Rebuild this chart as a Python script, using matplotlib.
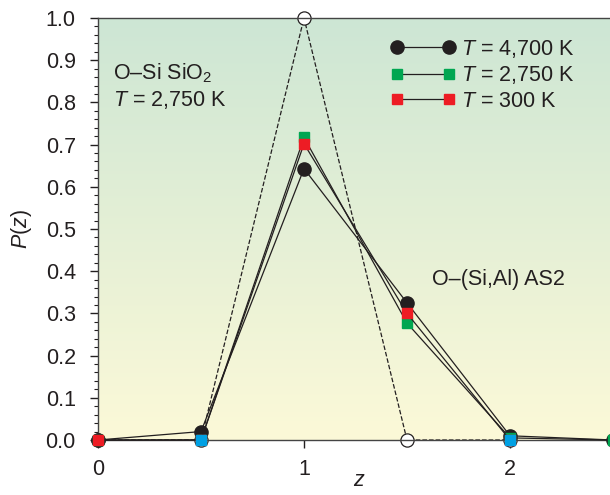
import numpy as np
import matplotlib
matplotlib.use("Agg")
import matplotlib.pyplot as plt
from matplotlib.ticker import MultipleLocator
from matplotlib.colors import LinearSegmentedColormap

plt.rcParams['font.family'] = ['Liberation Sans', 'DejaVu Sans']
plt.rcParams['mathtext.fontset'] = 'custom'
plt.rcParams['mathtext.rm'] = 'Liberation Sans'
plt.rcParams['mathtext.it'] = 'Liberation Sans:italic'

# data
z = [0, 0.5, 1, 1.5, 2, 2.5]
p_4700 = [0.0, 0.02, 0.643, 0.325, 0.01, 0.0]
p_2750 = [0.0, 0.0, 0.717, 0.277, 0.005, 0.0]
z_300 = [0, 0.5, 1, 1.5, 2]
p_300 = [0.0, 0.0, 0.702, 0.300, 0.0]
z_sio2 = [0, 0.5, 1, 1.5, 2]
p_sio2 = [0.0, 0.0, 1.0, 0.0, 0.0]
z_blue = [0.5, 2]
p_blue = [0.0, 0.0]

ink = '#231f20'
fs = 15.5

fig = plt.figure(figsize=(6.1, 4.95), dpi=100)
ax = fig.add_axes([98/610, 55/495, 515/610, 422/495])

# background gradient, green at top, yellow at bottom
cmap = LinearSegmentedColormap.from_list('bg', ['#fcf9d8', '#cde6d4'])
grad = np.linspace(0, 1, 256).reshape(-1, 1)
ax.imshow(grad, cmap=cmap, origin='lower', aspect='auto',
          extent=[0, 2.5, 0, 1.0], zorder=0)

ax.plot(z_sio2, p_sio2, ls='--', lw=0.9, color=ink, marker='o', ms=9.5,
        mfc='white', mec=ink, mew=0.9, zorder=2, clip_on=False)
ax.plot(z, p_4700, color=ink, lw=0.9, marker='o', ms=9.5, mfc=ink, mec=ink,
        label='$T$ = 4,700 K', zorder=3, clip_on=False)
ax.plot(z, p_2750, color=ink, lw=0.9, marker='s', ms=7, mfc='#00a651',
        mec='#00a651', label='$T$ = 2,750 K', zorder=4, clip_on=False)
ax.plot(z_300, p_300, color=ink, lw=0.9, marker='s', ms=7, mfc='#ed1c24',
        mec='#ed1c24', label='$T$ = 300 K', zorder=5, clip_on=False)
ax.plot(z_blue, p_blue, ls='none', marker='s', ms=7, mfc='#00a0e3',
        mec='#00a0e3', zorder=6, clip_on=False)

ax.set_xlim(0, 2.5)
ax.set_ylim(0, 1.0)
ax.xaxis.set_major_locator(MultipleLocator(1))
ax.xaxis.set_minor_locator(MultipleLocator(0.5))
ax.yaxis.set_major_locator(MultipleLocator(0.1))
ax.yaxis.set_minor_locator(MultipleLocator(0.02))
ax.yaxis.set_major_formatter(plt.FuncFormatter(lambda v, _: f'{v:.1f}'))
ax.tick_params(which='both', direction='out', color=ink, labelcolor=ink,
               labelsize=fs, top=False, right=False)
ax.tick_params(which='major', length=6, width=1)
ax.tick_params(axis='y', which='major', pad=10)
ax.tick_params(axis='x', which='major', pad=8)
ax.tick_params(which='minor', length=3, width=0.8)

for s in ['left', 'bottom', 'top']:
    ax.spines[s].set_color('#444444')
    ax.spines[s].set_linewidth(1)
ax.spines['right'].set_visible(False)

ax.set_xlabel('$z$', fontsize=fs, color=ink)
ax.xaxis.set_label_coords(0.508, -0.072)
ax.set_ylabel('$P$($z$)', fontsize=fs, color=ink, labelpad=8)

ax.text(0.073, 0.87, 'O–Si SiO$_2$', fontsize=fs, color=ink, va='center')
ax.text(0.073, 0.806, '$T$ = 2,750 K', fontsize=fs, color=ink, va='center')
ax.text(1.62, 0.38, 'O–(Si,Al) AS2', fontsize=fs, color=ink, va='center')

leg = ax.legend(loc='upper left', bbox_to_anchor=(0.551, 0.973), frameon=False,
                fontsize=fs, numpoints=2, handlelength=3.0, handletextpad=0.3,
                labelspacing=0.2, borderaxespad=0.0)
for t in leg.get_texts():
    t.set_color(ink)

fig.savefig('out.png', dpi=100)
